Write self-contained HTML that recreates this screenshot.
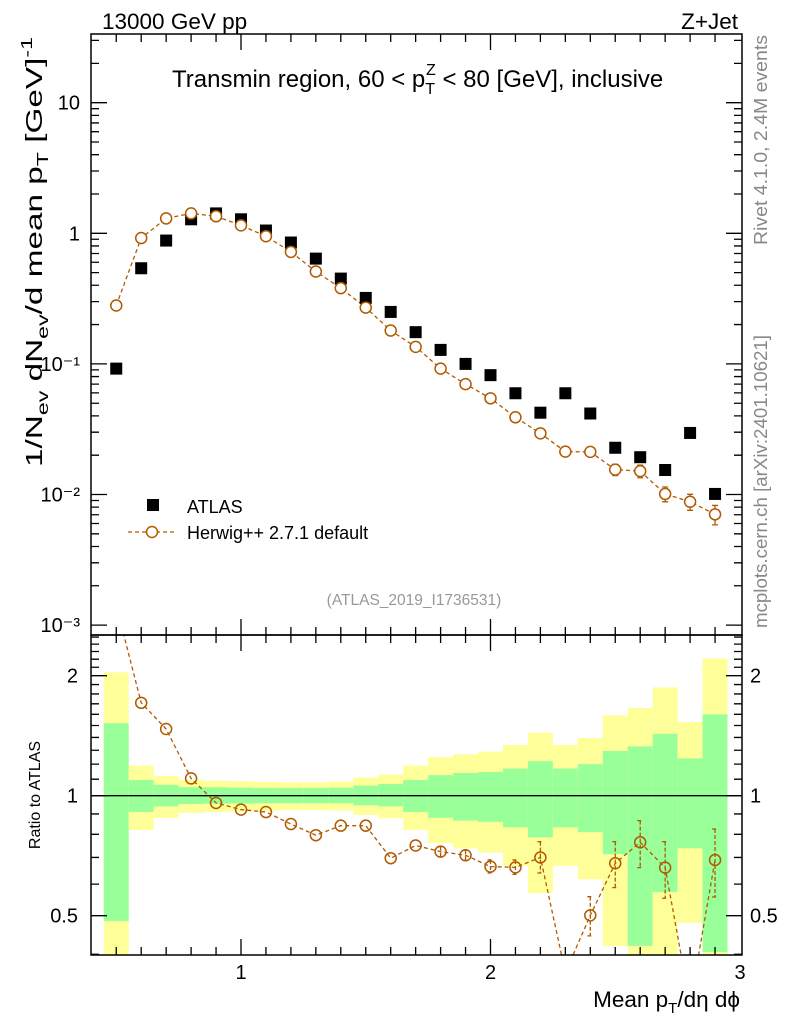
<!DOCTYPE html>
<html><head><meta charset="utf-8"><style>
html,body{margin:0;padding:0;background:#fff}
svg{display:block;font-family:"Liberation Sans",sans-serif}
</style></head><body>
<svg id="c" width="786" height="1024" viewBox="0 0 786 1024" xmlns="http://www.w3.org/2000/svg">
<g id="bands"></g>
<g id="marks"></g>
<g id="axes"></g>
<text x="102" y="29" font-size="22.5">13000 GeV pp</text>
<text x="738" y="29" font-size="22.5" text-anchor="end">Z+Jet</text>
<text x="172" y="87" font-size="24">Transmin region, 60 &lt; p<tspan font-size="16" dy="7">T</tspan><tspan font-size="16" dx="-9" dy="-19">Z</tspan><tspan dy="12"> &lt; 80 [GeV], inclusive</tspan></text>
<text transform="translate(42,252) rotate(-90)" font-size="23" text-anchor="middle" textLength="430" lengthAdjust="spacingAndGlyphs">1/N<tspan font-size="16" dy="6">ev</tspan><tspan dy="-6"> dN</tspan><tspan font-size="16" dy="6">ev</tspan><tspan dy="-6">/d mean p</tspan><tspan font-size="16" dy="6">T</tspan><tspan dy="-6"> [GeV]</tspan><tspan font-size="16" dy="-10">-1</tspan></text>
<text transform="translate(40,795) rotate(-90)" font-size="16" text-anchor="middle">Ratio to ATLAS</text>
<text x="740" y="1007" font-size="22.5" text-anchor="end">Mean p<tspan font-size="15" dy="6">T</tspan><tspan dy="-6">/dη dϕ</tspan></text>
<text transform="translate(767,245) rotate(-90)" font-size="18" fill="#888" textLength="210" lengthAdjust="spacingAndGlyphs">Rivet 4.1.0,  2.4M events</text>
<text transform="translate(767,628) rotate(-90)" font-size="18" fill="#888" textLength="293" lengthAdjust="spacingAndGlyphs">mcplots.cern.ch [arXiv:2401.10621]</text>
<text x="414" y="605" font-size="15.5" fill="#999" text-anchor="middle">(ATLAS_2019_I1736531)</text>
<g>
<rect x="147" y="499" width="12" height="12" fill="#000"/>
<text x="187" y="513" font-size="18">ATLAS</text>
<line x1="128" y1="532" x2="176" y2="532" stroke="#b05a00" stroke-width="1.3" stroke-dasharray="4,3"/>
<circle cx="152" cy="532" r="5.5" fill="#fff" stroke="#b05a00" stroke-width="1.5"/>
<text x="187" y="539" font-size="18">Herwig++ 2.7.1 default</text>
</g>
</svg>
<script>
const bins = [0.5,0.6,0.7,0.8,0.9,1.0,1.1,1.2,1.3,1.4,1.5,1.6,1.7,1.8,1.9,2.0,2.1,2.2,2.3,2.4,2.5,2.6,2.7,2.8,2.9];
const atlasVals = [0.092,0.54,0.88,1.28,1.42,1.28,1.05,0.85,0.64,0.45,0.32,0.25,0.175,0.128,0.1,0.082,0.0596,0.0423,0.0596,0.0417,0.0228,0.0193,0.0154,0.0296,0.0101];
const herwigVals = [0.28,0.92,1.3,1.42,1.35,1.15,0.95,0.72,0.51,0.38,0.27,0.18,0.135,0.092,0.07,0.0545,0.039,0.0294,0.0213,0.0212,0.0155,0.0151,0.0101,0.0088,0.00705];
const herwigRelErr = [0.01,0.01,0.01,0.01,0.01,0.01,0.01,0.01,0.01,0.01,0.02,0.02,0.03,0.03,0.03,0.04,0.04,0.05,0.06,0.07,0.1,0.11,0.13,0.14,0.17];
const ratioVals = [3.0,1.71,1.47,1.105,0.959,0.923,0.91,0.849,0.796,0.841,0.841,0.697,0.75,0.724,0.709,0.664,0.661,0.70,0.36,0.501,0.677,0.764,0.66,0.30,0.69];
const ratioErrUp = [3.0,1.72,1.48,1.11,0.965,0.93,0.917,0.856,0.803,0.85,0.85,0.715,0.77,0.745,0.73,0.69,0.69,0.767,0.4,0.558,0.767,0.866,0.767,0.33,0.825];
const ratioErrDn = [3.0,1.70,1.46,1.10,0.953,0.916,0.903,0.842,0.789,0.832,0.832,0.68,0.73,0.703,0.688,0.64,0.635,0.64,0.32,0.445,0.588,0.66,0.553,0.27,0.557];
const band2Up = [2.04,1.19,1.12,1.095,1.09,1.087,1.083,1.08,1.08,1.085,1.11,1.13,1.19,1.25,1.27,1.29,1.34,1.44,1.34,1.395,1.59,1.66,1.87,1.53,2.21];
const band1Up = [1.52,1.095,1.065,1.05,1.05,1.047,1.045,1.045,1.045,1.047,1.06,1.07,1.095,1.126,1.14,1.147,1.17,1.22,1.17,1.2,1.295,1.33,1.43,1.24,1.6];
const band1Dn = [0.485,0.91,0.94,0.953,0.955,0.956,0.957,0.957,0.957,0.957,0.946,0.94,0.91,0.88,0.866,0.86,0.833,0.786,0.833,0.81,0.713,0.42,0.573,0.738,0.405];
const band2Dn = [0.3,0.82,0.88,0.906,0.91,0.913,0.917,0.92,0.92,0.918,0.895,0.878,0.82,0.76,0.738,0.72,0.667,0.57,0.667,0.617,0.42,0.3,0.3,0.48,0.3];
const xTickLabels = ["1","2","3"];
const yTickLabels = ["10","1","10\u207B\u00B9","10\u207B\u00B2","10\u207B\u00B3"];
const ratioTickLabels = ["0.5","1","2"];

const NS="http://www.w3.org/2000/svg";
const L=91,R=742,T=34,MB=635,RB=955;
const X=v=>241+(v-1)*249.5;
const Y=v=>233.3-Math.log10(v)*130.6;
const RY=v=>795.7-120*Math.log2(v);
function mk(tag,attrs,parent){const e=document.createElementNS(NS,tag);for(const k in attrs)e.setAttribute(k,attrs[k]);parent.appendChild(e);return e;}
const svg=document.getElementById('c');
const bandsG=document.getElementById('bands'),marksG=document.getElementById('marks'),axesG=document.getElementById('axes');

bins.forEach((b,i)=>{
  const x0=X(b-0.05),x1=X(b+0.05);
  const ya=Math.max(MB,RY(band2Up[i])),yb=Math.min(RB,RY(band2Dn[i]));
  let r=mk('rect',{x:x0,y:ya,width:x1-x0,height:yb-ya,fill:'#ffff99'},bandsG);
  
  
  const ga=Math.max(MB,RY(band1Up[i])),gb=Math.min(RB,RY(band1Dn[i]));
  r=mk('rect',{x:x0,y:ga,width:x1-x0,height:gb-ga,fill:'#99ff99'},bandsG);
  
  
});
let ln=mk('line',{x1:L,y1:RY(1),x2:R,y2:RY(1),stroke:'#000','stroke-width':1.3},bandsG);



let pts=bins.map((b,i)=>X(b)+','+Y(herwigVals[i])).join(' ');
let pl=mk('polyline',{points:pts,fill:'none',stroke:'#b05a00','stroke-width':1.3,'stroke-dasharray':'4,3'},marksG);


bins.forEach((b,i)=>{
  const s=mk('rect',{x:X(b)-6,y:Y(atlasVals[i])-6,width:12,height:12,fill:'#000'},marksG);
  
  
  const v=herwigVals[i],e=herwigRelErr[i];
  const y1=Y(v*(1+e)),y2=Y(v*(1-e));
  if(y2-y1>10){
    const eb=mk('path',{d:`M${X(b)},${y1}V${y2}M${X(b)-3},${y1}H${X(b)+3}M${X(b)-3},${y2}H${X(b)+3}`,stroke:'#b05a00','stroke-width':1.3,fill:'none'},marksG);
    
    
  }
  const c=mk('circle',{cx:X(b),cy:Y(v),r:5.5,fill:'#fff',stroke:'#b05a00','stroke-width':1.5},marksG);
  
  
});

const cp=mk('clipPath',{id:'rc'},svg);mk('rect',{x:L,y:MB,width:R-L,height:RB-MB},cp);
const rg=mk('g',{'clip-path':'url(#rc)'},marksG);
pts=bins.map((b,i)=>X(b)+','+RY(ratioVals[i])).join(' ');
pl=mk('polyline',{points:pts,fill:'none',stroke:'#b05a00','stroke-width':1.3,'stroke-dasharray':'4,3'},rg);


bins.forEach((b,i)=>{
  const y=RY(ratioVals[i]);
  if(y<MB||y>RB) return;
  const y1=RY(ratioErrUp[i]),y2=RY(ratioErrDn[i]);
  if(y2-y1>10){
    const eb=mk('path',{d:`M${X(b)},${y1}V${y2}M${X(b)-3},${y1}H${X(b)+3}M${X(b)-3},${y2}H${X(b)+3}`,stroke:'#b05a00','stroke-width':1.3,fill:'none','stroke-dasharray':'4,2'},rg);
    
    
  }
  const c=mk('circle',{cx:X(b),cy:y,r:5.5,fill:'none',stroke:'#b05a00','stroke-width':1.5},rg);
  
  
});

[[T,MB],[MB,RB]].forEach(([t,b],k)=>{
  const f=mk('rect',{x:L,y:t,width:R-L,height:b-t,fill:'none',stroke:'#000','stroke-width':1.5},axesG);
  
  
  for(let v=0.5;v<=2.951;v+=0.1){
    const vv=Math.round(v*10)/10, major=Math.abs(vv-Math.round(vv))<1e-6, len=major?16:8, x=X(vv);
    mk('path',{d:`M${x},${t}v${len}M${x},${b}v${-len}`,stroke:'#000','stroke-width':1.3},axesG);
  }
});
for(let d=-3;d<=1;d++){
  for(let m=1;m<=9;m++){
    const v=m*Math.pow(10,d), y=Y(v);
    if(y<T||y>MB) continue;
    const len=m==1?16:8;
    mk('path',{d:`M${L},${y}h${len}M${R},${y}h${-len}`,stroke:'#000','stroke-width':1.3},axesG);
  }
}
yTickLabels.forEach((s,i)=>{
  const y=Y(Math.pow(10,1-i));
  const t=mk('text',{x:80,y:y+7,'font-size':20,'text-anchor':'end'},axesG);
  t.textContent=s;
  
  
});
for(let v=0.4;v<=2.55;v+=0.1){
  const vv=Math.round(v*10)/10,y=RY(vv);
  if(y<MB||y>RB) continue;
  const major=(vv==0.5||vv==1||vv==2), len=major?16:8;
  mk('path',{d:`M${L},${y}h${len}M${R},${y}h${-len}`,stroke:'#000','stroke-width':1.3},axesG);
}
ratioTickLabels.forEach(s=>{
  const y=RY(parseFloat(s));
  let t=mk('text',{x:78,y:y+7,'font-size':20,'text-anchor':'end'},axesG);
  t.textContent=s;
  
  
  t=mk('text',{x:750,y:y+7,'font-size':20},axesG);
  t.textContent=s;
  
  
});
xTickLabels.forEach(s=>{
  const t=mk('text',{x:X(parseFloat(s)),y:979,'font-size':20,'text-anchor':'middle'},axesG);
  t.textContent=s;
  
  
});
</script>
</body></html>
